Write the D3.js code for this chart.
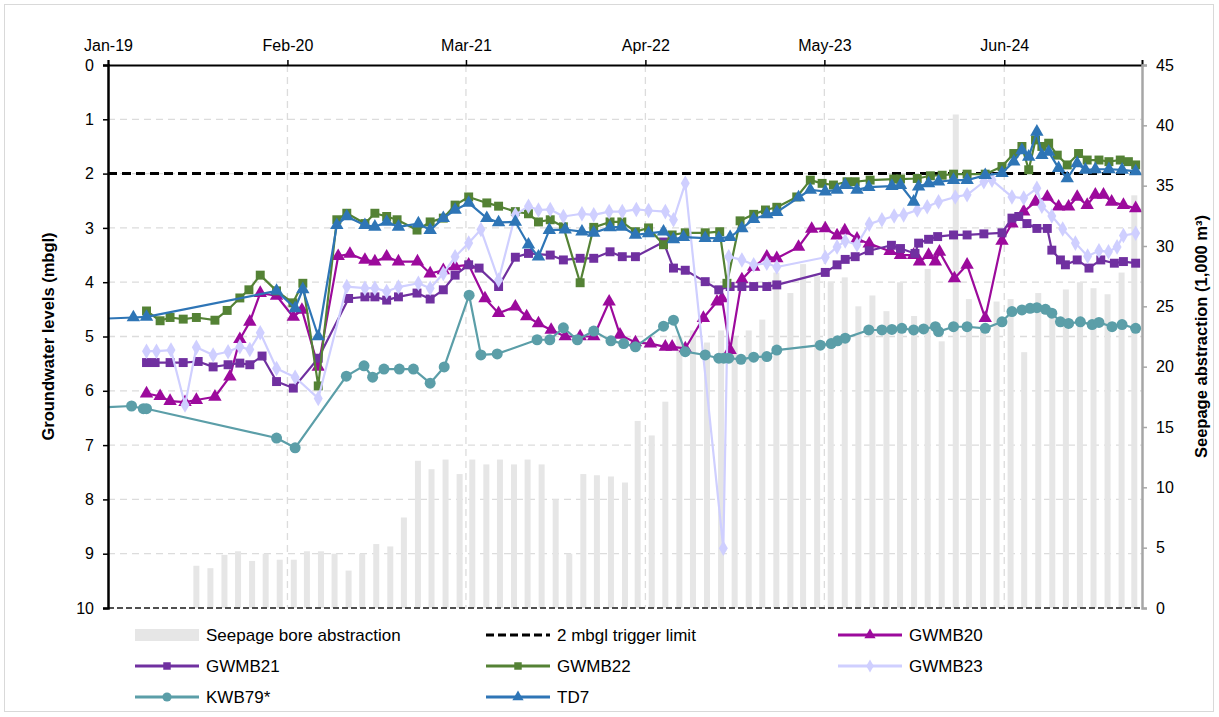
<!DOCTYPE html>
<html><head><meta charset="utf-8">
<script src="https://cdn.jsdelivr.net/npm/d3@7"></script>
<style>
html,body{margin:0;padding:0;background:#fff;}
svg{display:block;font-family:"Liberation Sans",Arial,sans-serif;}
</style></head>
<body><svg id="chart" width="1219" height="717"></svg>
<script>
// ---------------- DATA ----------------
const xTickDates = ["2019-01-01","2020-02-01","2021-03-01","2022-04-01","2023-05-01","2024-06-01"];
const leftTicks = [0,1,2,3,4,5,6,7,8,9,10];
const rightTicks = [0,5,10,15,20,25,30,35,40,45];
const triggerLimit = 2;

// Monthly seepage bore abstraction (1,000 m3), Jul-2019 .. Mar-2025
const abstractionStart = "2019-07-15";
const abstraction = [
  3.5,3.3,4.4,4.7,3.9,4.5,
  4.0,4.0,4.7,4.7,4.5,3.1,4.5,5.3,5.1,7.5,12.2,11.5,
  12.3,11.1,12.3,11.9,12.3,11.9,12.3,11.9,9.0,4.5,11.1,11.0,
  10.9,10.4,15.5,14.3,17.1,22.5,23.0,22.0,23.0,22.5,23.0,23.9,
  27.8,26.1,28.5,27.5,27.0,27.4,25.0,25.9,24.6,27.0,24.2,28.1,
  22.1,40.9,25.6,23.0,25.4,25.6,21.2,26.1,24.5,26.4,27.0,26.5,
  26.0,27.8,34.2
];

const gwmb20 = [["2019-03-27",6.05],["2019-04-26",6.10],["2019-05-18",6.19],["2019-06-20",6.21],["2019-07-15",6.17],["2019-08-25",6.11],["2019-09-27",5.74],["2019-10-19",5.05],["2019-11-10",4.73],["2019-12-03",4.20],["2020-01-08",4.25],["2020-02-14",4.64],["2020-03-04",4.51],["2020-04-09",5.56],["2020-05-23",3.52],["2020-06-18",3.48],["2020-07-21",3.59],["2020-08-12",3.62],["2020-09-07",3.53],["2020-10-03",3.62],["2020-11-14",3.62],["2020-12-12",3.84],["2021-01-10",3.78],["2021-02-05",3.71],["2021-03-07",3.68],["2021-04-12",4.30],["2021-05-12",4.57],["2021-06-18",4.45],["2021-07-13",4.63],["2021-08-08",4.76],["2021-09-05",4.88],["2021-10-06",5.00],["2021-11-08",5.00],["2021-12-08",5.00],["2022-01-11",4.36],["2022-02-04",4.97],["2022-03-10",5.11],["2022-04-12",5.13],["2022-05-15",5.19],["2022-05-30",5.19],["2022-06-28",5.22],["2022-08-07",4.66],["2022-09-06",4.36],["2022-09-17",4.30],["2022-10-05",5.25],["2022-10-31",3.95],["2022-11-26",3.72],["2022-12-25",3.53],["2023-01-16",3.56],["2023-03-05",3.35],["2023-04-03",3.02],["2023-05-03",3.01],["2023-05-29",3.14],["2023-06-15",3.05],["2023-07-12",3.20],["2023-08-08",3.29],["2023-09-23",3.43],["2023-10-16",3.50],["2023-11-14",3.50],["2023-11-27",3.62],["2023-12-17",3.50],["2024-01-01",3.62],["2024-01-10",3.44],["2024-02-12",3.93],["2024-03-11",3.68],["2024-04-20",4.66],["2024-05-27",3.24],["2024-06-18",2.92],["2024-07-14",2.70],["2024-08-09",2.52],["2024-09-04",2.43],["2024-09-29",2.61],["2024-10-21",2.61],["2024-11-09",2.43],["2024-12-01",2.58],["2024-12-19",2.39],["2025-01-06",2.39],["2025-01-24",2.52],["2025-02-19",2.58],["2025-03-18",2.64]];

const gwmb21 = [["2019-03-27",5.48],["2019-04-15",5.48],["2019-05-18",5.48],["2019-06-16",5.48],["2019-07-19",5.46],["2019-08-21",5.56],["2019-09-23",5.52],["2019-10-19",5.49],["2019-11-10",5.52],["2019-12-07",5.36],["2020-01-08",5.83],["2020-02-14",5.95],["2020-04-09",5.40],["2020-06-15",4.30],["2020-07-21",4.27],["2020-08-12",4.27],["2020-09-07",4.33],["2020-10-03",4.27],["2020-11-13",4.20],["2020-12-12",4.31],["2021-01-10",4.14],["2021-02-05",3.87],["2021-03-07",3.68],["2021-03-30",3.74],["2021-05-12",4.08],["2021-06-18",3.54],["2021-07-17",3.47],["2021-09-03",3.50],["2021-10-02",3.59],["2021-11-08",3.56],["2021-12-08",3.56],["2022-01-13",3.44],["2022-02-09",3.53],["2022-03-10",3.53],["2022-05-11",3.26],["2022-06-02",3.74],["2022-06-28",3.78],["2022-08-11",3.99],["2022-09-10",4.14],["2022-10-05",4.08],["2022-10-31",4.08],["2022-11-26",4.08],["2022-12-25",4.08],["2023-01-16",4.05],["2023-05-03",3.82],["2023-05-29",3.68],["2023-06-16",3.58],["2023-07-08",3.53],["2023-08-08",3.42],["2023-09-26",3.32],["2023-10-16",3.38],["2023-11-17",3.47],["2023-11-25",3.28],["2023-12-17",3.21],["2024-01-06",3.16],["2024-02-10",3.13],["2024-03-11",3.13],["2024-04-17",3.11],["2024-05-27",3.09],["2024-06-18",2.82],["2024-07-03",2.79],["2024-07-21",2.92],["2024-08-12",3.01],["2024-09-04",3.01],["2024-09-14",3.41],["2024-10-03",3.59],["2024-10-14",3.68],["2024-11-09",3.59],["2024-12-05",3.74],["2024-12-31",3.59],["2025-01-30",3.65],["2025-02-19",3.62],["2025-03-18",3.65]];

const gwmb22 = [["2019-03-27",4.53],["2019-04-26",4.71],["2019-05-18",4.65],["2019-06-16",4.68],["2019-07-15",4.65],["2019-08-25",4.70],["2019-09-21",4.52],["2019-10-19",4.29],["2019-11-08",4.14],["2019-12-03",3.87],["2020-01-08",4.16],["2020-02-13",4.38],["2020-03-06",4.02],["2020-04-09",5.91],["2020-05-20",2.85],["2020-06-11",2.73],["2020-07-21",2.92],["2020-08-12",2.73],["2020-09-07",2.79],["2020-09-30",2.85],["2020-11-13",3.04],["2020-12-12",2.89],["2021-01-10",2.82],["2021-02-05",2.58],["2021-03-07",2.43],["2021-04-16",2.54],["2021-05-12",2.60],["2021-06-18",2.70],["2021-07-17",2.74],["2021-08-08",2.89],["2021-09-03",2.85],["2021-10-02",2.98],["2021-11-08",4.01],["2021-12-08",2.99],["2022-01-13",2.89],["2022-02-08",2.89],["2022-03-10",3.07],["2022-04-08",3.00],["2022-05-11",3.31],["2022-05-30",3.13],["2022-06-28",3.09],["2022-08-11",3.09],["2022-09-12",3.07],["2022-09-28",4.02],["2022-10-27",2.87],["2022-11-26",2.75],["2022-12-22",2.67],["2023-01-16",2.62],["2023-03-01",2.43],["2023-03-31",2.12],["2023-04-26",2.18],["2023-05-21",2.21],["2023-06-20",2.15],["2023-07-08",2.15],["2023-08-10",2.12],["2023-10-01",2.10],["2023-10-16",2.10],["2023-11-22",2.09],["2023-12-21",2.04],["2024-01-16",2.03],["2024-02-10",2.01],["2024-03-11",2.01],["2024-04-20",2.01],["2024-05-27",1.87],["2024-06-22",1.63],["2024-07-10",1.50],["2024-07-25",1.93],["2024-08-09",1.38],["2024-08-23",1.50],["2024-09-07",1.44],["2024-09-26",1.66],["2024-10-18",1.84],["2024-11-12",1.63],["2024-12-01",1.75],["2024-12-27",1.75],["2025-01-18",1.78],["2025-02-12",1.75],["2025-03-02",1.78],["2025-03-18",1.84]];

const gwmb23 = [["2019-03-27",5.27],["2019-04-18",5.27],["2019-05-20",5.25],["2019-06-20",6.26],["2019-07-15",5.20],["2019-08-21",5.34],["2019-09-23",5.28],["2019-10-19",5.19],["2019-11-10",5.24],["2019-12-03",4.93],["2020-01-08",5.59],["2020-02-18",5.75],["2020-04-09",6.14],["2020-06-11",4.08],["2020-07-21",4.11],["2020-08-12",4.11],["2020-09-07",4.17],["2020-10-03",4.09],["2020-11-16",4.02],["2020-12-12",4.11],["2021-01-10",3.84],["2021-02-05",3.53],["2021-03-07",3.28],["2021-04-03",3.03],["2021-05-12",3.96],["2021-06-18",2.76],["2021-07-17",2.60],["2021-08-08",2.67],["2021-09-03",2.66],["2021-10-02",2.79],["2021-11-12",2.74],["2021-12-08",2.76],["2022-01-11",2.70],["2022-02-09",2.70],["2022-03-12",2.66],["2022-04-08",2.68],["2022-05-15",2.70],["2022-06-02",2.85],["2022-06-28",2.18],["2022-09-20",8.90],["2022-10-02",3.53],["2022-10-31",3.59],["2022-11-26",3.68],["2022-12-25",3.65],["2023-01-16",3.72],["2023-05-03",3.54],["2023-05-29",3.35],["2023-06-16",3.24],["2023-07-12",3.31],["2023-08-08",2.93],["2023-09-05",2.85],["2023-10-02",2.78],["2023-10-23",2.76],["2023-11-22",2.67],["2023-12-14",2.61],["2024-01-08",2.52],["2024-02-14",2.43],["2024-03-11",2.39],["2024-04-17",2.15],["2024-05-05",2.12],["2024-06-18",2.43],["2024-07-14",2.45],["2024-08-12",2.27],["2024-08-23",2.60],["2024-09-14",2.78],["2024-10-08",3.02],["2024-11-05",3.28],["2024-12-02",3.52],["2024-12-27",3.42],["2025-01-17",3.44],["2025-02-05",3.35],["2025-02-19",3.14],["2025-03-18",3.10]];

const kwb79 = [["2018-10-01",6.34],["2019-02-22",6.28],["2019-03-20",6.33],["2019-03-27",6.33],["2020-01-08",6.87],["2020-02-18",7.05],["2020-06-10",5.73],["2020-07-19",5.54],["2020-08-07",5.75],["2020-09-01",5.60],["2020-10-05",5.60],["2020-11-05",5.60],["2020-12-12",5.86],["2021-01-12",5.56],["2021-03-08",4.24],["2021-04-03",5.34],["2021-05-09",5.32],["2021-08-05",5.06],["2021-09-02",5.06],["2021-10-02",4.84],["2021-11-02",5.06],["2021-12-08",4.90],["2022-01-15",5.08],["2022-02-12",5.13],["2022-03-10",5.19],["2022-05-11",4.81],["2022-06-02",4.70],["2022-06-28",5.28],["2022-08-11",5.34],["2022-09-10",5.40],["2022-09-21",5.40],["2022-10-02",5.40],["2022-10-29",5.42],["2022-11-26",5.38],["2022-12-25",5.37],["2023-01-16",5.25],["2023-04-22",5.16],["2023-05-16",5.13],["2023-05-30",5.08],["2023-06-16",5.03],["2023-08-07",4.88],["2023-09-05",4.88],["2023-09-27",4.87],["2023-10-19",4.85],["2023-11-14",4.88],["2023-12-06",4.86],["2024-01-01",4.82],["2024-01-08",4.91],["2024-02-10",4.82],["2024-03-11",4.82],["2024-04-20",4.85],["2024-05-27",4.73],["2024-06-18",4.54],["2024-07-10",4.51],["2024-07-28",4.48],["2024-08-12",4.47],["2024-08-31",4.50],["2024-09-14",4.57],["2024-10-03",4.73],["2024-10-21",4.76],["2024-11-16",4.73],["2024-12-12",4.78],["2024-12-27",4.74],["2025-01-25",4.82],["2025-02-16",4.78],["2025-03-18",4.85]];

const td7 = [["2018-10-01",4.70],["2019-02-26",4.65],["2019-03-27",4.64],["2020-01-08",4.16],["2020-02-18",4.48],["2020-03-06",4.13],["2020-04-09",5.00],["2020-05-20",2.95],["2020-06-11",2.79],["2020-07-21",2.95],["2020-08-12",2.98],["2020-09-07",2.89],["2020-10-03",2.98],["2020-11-16",2.92],["2020-12-12",3.04],["2021-01-10",2.82],["2021-02-05",2.67],["2021-03-07",2.54],["2021-04-16",2.82],["2021-05-12",2.90],["2021-06-18",2.89],["2021-07-17",3.31],["2021-08-08",3.53],["2021-09-01",3.04],["2021-10-06",3.03],["2021-11-12",3.07],["2021-12-08",3.09],["2022-01-13",2.99],["2022-02-08",2.98],["2022-03-10",3.13],["2022-04-08",3.10],["2022-05-11",3.07],["2022-06-02",3.21],["2022-06-24",3.17],["2022-08-11",3.19],["2022-09-10",3.19],["2022-10-05",3.17],["2022-10-31",3.01],["2022-11-26",2.84],["2022-12-25",2.75],["2023-01-16",2.71],["2023-03-05",2.44],["2023-03-31",2.30],["2023-05-03",2.33],["2023-05-29",2.30],["2023-06-16",2.21],["2023-07-12",2.30],["2023-08-07",2.25],["2023-09-27",2.23],["2023-10-16",2.21],["2023-11-14",2.52],["2023-11-25",2.24],["2023-12-17",2.18],["2024-01-08",2.15],["2024-02-10",2.12],["2024-03-11",2.12],["2024-04-20",2.03],["2024-05-27",1.99],["2024-06-22",1.78],["2024-07-10",1.57],["2024-07-25",1.69],["2024-08-12",1.23],["2024-08-23",1.66],["2024-09-07",1.60],["2024-09-29",1.90],["2024-10-18",2.09],["2024-11-09",1.81],["2024-11-27",1.93],["2024-12-19",1.92],["2025-01-18",1.92],["2025-02-16",1.93],["2025-03-18",1.96]];

const seriesNames = ["GWMB20","GWMB21","GWMB22","GWMB23","KWB79*","TD7"];
const seriesColors = ["#9c0a9c","#7030a0","#548235","#cfcfff","#5b9ea8","#2e75b6"];
const seriesSymbols = ["triangle","square","square","diamond","circle","triangle"];
const seriesData = [gwmb20,gwmb21,gwmb22,gwmb23,kwb79,td7];

// ---------------- DRAW ----------------
const parse = d3.utcParse("%Y-%m-%d");
const svg = d3.select("#chart");
const L = 108, R = 1142, T = 65, B = 608;

const x = d3.scaleUtc().domain([parse("2019-01-01"), parse("2025-04-01")]).range([L, R]);
const yL = d3.scaleLinear().domain([0, 10]).range([T, B]);
const yR = d3.scaleLinear().domain([0, 45]).range([B, T]);

// outer frame
svg.append("rect").attr("x",4.5).attr("y",4.5).attr("width",1209).attr("height",707)
  .attr("fill","none").attr("stroke","#d9d9d9").attr("stroke-width",1);

svg.append("defs").append("clipPath").attr("id","plotclip")
  .append("rect").attr("x",L).attr("y",T-8).attr("width",R-L).attr("height",B-T+8);

// gridlines
const grid = svg.append("g");
grid.selectAll("line.h").data(leftTicks.filter(d=>d>0&&d<10)).join("line")
  .attr("x1",L).attr("x2",R).attr("y1",d=>yL(d)).attr("y2",d=>yL(d))
  .attr("stroke","#dcdcdc").attr("stroke-width",1.3).attr("stroke-dasharray","7,5");
grid.selectAll("line.v").data(xTickDates.slice(1).map(parse)).join("line")
  .attr("x1",d=>x(d)).attr("x2",d=>x(d)).attr("y1",T).attr("y2",B)
  .attr("stroke","#dcdcdc").attr("stroke-width",1.3).attr("stroke-dasharray","7,5");

// bars
const barDates = abstraction.map((v,i)=>d3.utcMonth.offset(parse(abstractionStart), i));
svg.append("g").selectAll("rect").data(abstraction).join("rect")
  .attr("x",(d,i)=>x(barDates[i])-3).attr("width",6)
  .attr("y",d=>yR(d)).attr("height",d=>yR(0)-yR(d))
  .attr("fill","#e6e6e6");

// bottom dashed axis line
svg.append("line").attr("x1",L).attr("x2",R).attr("y1",B).attr("y2",B)
  .attr("stroke","#505050").attr("stroke-width",2).attr("stroke-dasharray","6,3");

// trigger limit
svg.append("line").attr("x1",L).attr("x2",R).attr("y1",yL(triggerLimit)).attr("y2",yL(triggerLimit))
  .attr("stroke","#000").attr("stroke-width",3).attr("stroke-dasharray","9,5");

// series
const symType = {triangle:d3.symbolTriangle, square:d3.symbolSquare, diamond:d3.symbolDiamond, circle:d3.symbolCircle};
const symSize = {triangle:78, square:80, diamond:70, circle:95};
const line = d3.line().x(d=>x(parse(d[0]))).y(d=>yL(d[1]));
const plot = svg.append("g").attr("clip-path","url(#plotclip)");
seriesData.forEach((data,i)=>{
  const g = plot.append("g");
  g.append("path").datum(data).attr("d",line).attr("fill","none")
    .attr("stroke",seriesColors[i]).attr("stroke-width",2.2).attr("stroke-linejoin","round");
  const sym = d3.symbol().type(symType[seriesSymbols[i]]).size(symSize[seriesSymbols[i]]);
  g.selectAll("path.m").data(data).join("path").attr("class","m")
    .attr("transform",d=>`translate(${x(parse(d[0]))},${yL(d[1])})`)
    .attr("d",sym).attr("fill",seriesColors[i]);
});

// axes
const axTop = svg.append("g").attr("transform",`translate(0,${T})`)
  .call(d3.axisTop(x).tickValues(xTickDates.map(parse)).tickFormat(d3.utcFormat("%b-%y")).tickSize(5).tickPadding(9));
axTop.select(".domain").attr("stroke","#000").attr("stroke-width",2);
axTop.selectAll(".tick line").attr("stroke","#000").attr("stroke-width",1.5);
axTop.selectAll("text").attr("font-size",16).attr("fill","#000").attr("font-family","Liberation Sans, Arial, sans-serif");

const axLeft = svg.append("g").attr("transform",`translate(${L},0)`)
  .call(d3.axisLeft(yL).tickValues(leftTicks).tickFormat(d3.format("d")).tickSize(5).tickPadding(9));
axLeft.select(".domain").attr("stroke","#000").attr("stroke-width",2.5);
axLeft.selectAll(".tick line").attr("stroke","#000").attr("stroke-width",1.5);
axLeft.selectAll("text").attr("font-size",16).attr("fill","#000").attr("font-family","Liberation Sans, Arial, sans-serif");

const axRight = svg.append("g").attr("transform",`translate(${R},0)`)
  .call(d3.axisRight(yR).tickValues(rightTicks).tickFormat(d3.format("d")).tickSize(5).tickPadding(9));
axRight.select(".domain").attr("stroke","#a6a6a6").attr("stroke-width",2.5);
axRight.selectAll(".tick line").attr("stroke","#a6a6a6").attr("stroke-width",1.5);
axRight.selectAll("text").attr("font-size",16).attr("fill","#000").attr("font-family","Liberation Sans, Arial, sans-serif");

// axis titles
svg.append("text").attr("transform",`translate(54,${(T+B)/2}) rotate(-90)`)
  .attr("text-anchor","middle").attr("font-size",16.5).attr("font-weight","bold").text("Groundwater levels (mbgl)");
svg.append("text").attr("transform",`translate(1207,${(T+B)/2}) rotate(-90)`)
  .attr("text-anchor","middle").attr("font-size",16.5).attr("font-weight","bold").text("Seepage abstraction (1,000 m³)");

// legend
const legendItems = [
  {name:"Seepage bore abstraction", kind:"bar", col:0, row:0},
  {name:"2 mbgl trigger limit", kind:"dash", col:1, row:0},
  {name:seriesNames[0], kind:"s", idx:0, col:2, row:0},
  {name:seriesNames[1], kind:"s", idx:1, col:0, row:1},
  {name:seriesNames[2], kind:"s", idx:2, col:1, row:1},
  {name:seriesNames[3], kind:"s", idx:3, col:2, row:1},
  {name:seriesNames[4], kind:"s", idx:4, col:0, row:2},
  {name:seriesNames[5], kind:"s", idx:5, col:1, row:2}
];
const colX = [135, 486, 838], rowY = [635, 666, 697];
const lg = svg.append("g");
legendItems.forEach(it=>{
  const gx = colX[it.col], gy = rowY[it.row];
  const g = lg.append("g");
  if(it.kind==="bar"){
    g.append("rect").attr("x",gx).attr("y",gy-6).attr("width",64).attr("height",12).attr("fill","#e6e6e6");
  } else if(it.kind==="dash"){
    g.append("line").attr("x1",gx).attr("x2",gx+64).attr("y1",gy).attr("y2",gy)
      .attr("stroke","#000").attr("stroke-width",3).attr("stroke-dasharray","8,4");
  } else {
    const c = seriesColors[it.idx];
    g.append("line").attr("x1",gx).attr("x2",gx+64).attr("y1",gy).attr("y2",gy).attr("stroke",c).attr("stroke-width",3);
    const st = seriesSymbols[it.idx];
    g.append("path").attr("transform",`translate(${gx+32},${gy})`)
      .attr("d",d3.symbol().type(symType[st]).size(symSize[st]*0.7)()).attr("fill",c);
  }
  g.append("text").attr("x",gx+71).attr("y",gy).attr("dy","0.35em")
    .attr("font-size",17).attr("fill","#000").text(it.name);
});
</script>
</body></html>
